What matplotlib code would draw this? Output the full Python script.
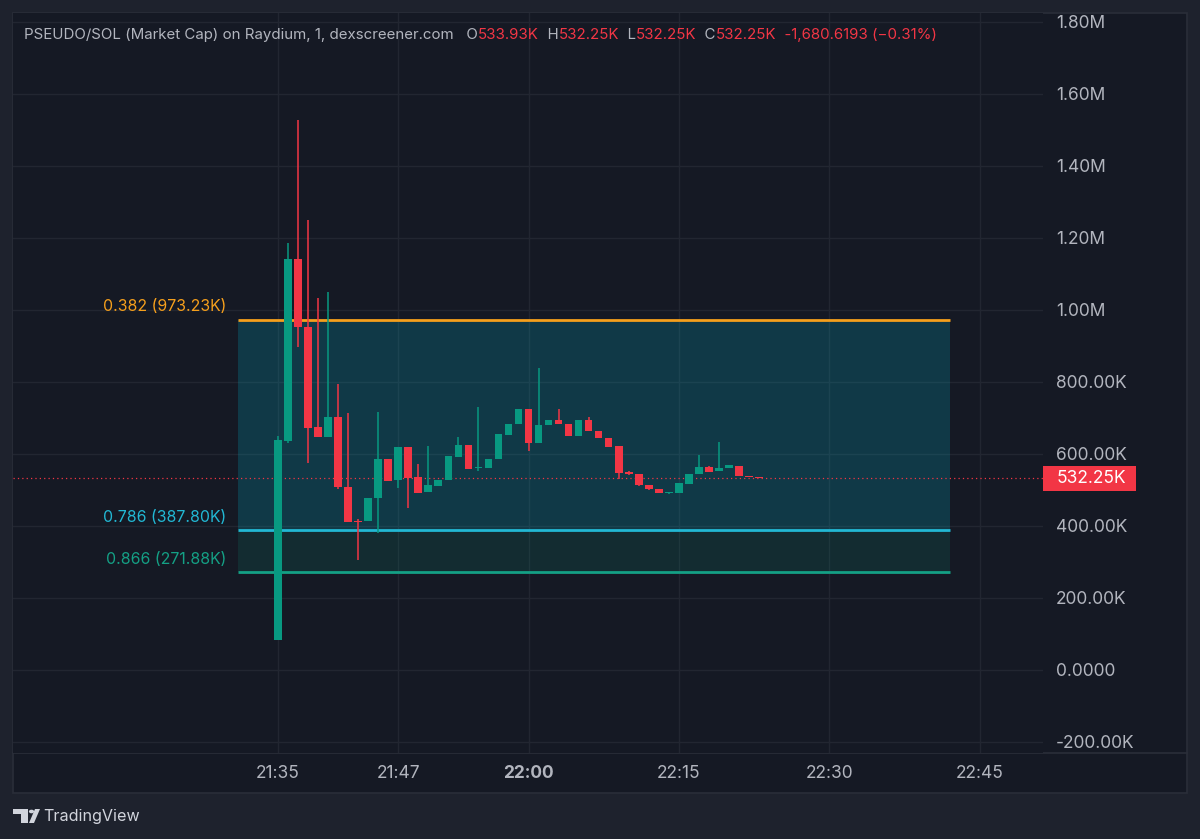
import matplotlib
matplotlib.use("Agg")
import matplotlib.pyplot as plt
import matplotlib.transforms as mtransforms
from matplotlib.patches import Rectangle, Polygon, Circle
from matplotlib.lines import Line2D
import numpy as np

plt.rcParams['font.family'] = ['Inter', 'DejaVu Sans']

# ---- data (market cap, in K) ----
start_time = "21:35"
opens  = [82, 636, 1141, 953, 675, 648, 704, 509, 414, 413, 477, 586, 528, 619, 535, 494, 511, 528, 593, 624,
          561, 560, 586, 653, 682, 725, 631, 680, 694, 683, 650, 694, 665, 644, 621, 549, 544, 514, 502, 491,
          492, 518, 544, 564, 552, 561, 568, 538, 533.93]
highs  = [650, 1187, 1529, 1250, 1032, 1050, 794, 714, 420, 477, 718, 586, 619, 619, 572, 622, 528, 594, 648, 624,
          731, 587, 655, 682, 725, 725, 839, 694, 724, 683, 694, 702, 665, 644, 621, 552, 544, 514, 502, 494,
          520, 545, 597, 566, 634, 569, 568, 538, 533.93]
lows   = [82, 630, 898, 576, 648, 648, 504, 410, 306, 413, 381, 526, 505, 449, 491, 494, 511, 528, 593, 558,
          553, 560, 586, 653, 682, 609, 631, 680, 682, 650, 650, 665, 644, 620, 530, 543, 510, 499, 491, 490,
          492, 518, 544, 551, 552, 561, 539, 535, 532.25]
closes = [638, 1141, 953, 673, 648, 704, 507, 412, 411, 477, 586, 526, 619, 534, 493, 513, 528, 594, 624, 558,
          564, 587, 655, 682, 725, 631, 680, 694, 682, 650, 694, 665, 644, 620, 546, 544, 514, 502, 491, 494,
          520, 545, 564, 551, 562, 569, 539, 535.5, 532.25]

fib_levels = [0.382, 0.786, 0.866]
fib_values = [973.23, 387.80, 271.88]
fib_start, fib_end = "21:31", "22:42"
last_price = 532.25

time_ticks = ["21:35", "21:47", "22:00", "22:15", "22:30", "22:45"]
y_ticks = [-200, 0, 200, 400, 600, 800, 1000, 1200, 1400, 1600, 1800]

title_parts = [("PSEUDO/SOL (Market Cap) on Raydium, 1, dexscreener.com   O", "#b2b5be"),
               ("533.93K", "#f23645"), ("  H", "#b2b5be"), ("532.25K", "#f23645"),
               ("  L", "#b2b5be"), ("532.25K", "#f23645"), ("  C", "#b2b5be"),
               ("532.25K", "#f23645"), ("  -1,680.6193 (\u22120.31%)", "#f23645")]

# ---- colours ----
outer_bg = "#1e222d"
panel_bg = "#151924"
border = "#2a2e39"
grid_c = "#222631"
text_c = "#b2b5be"
up_c = "#089981"
down_c = "#f23645"
fib_colors = ["#f59f1c", "#22b8d4", "#14a085"]

TICK_FS = 12.5
TITLE_FS = 10.85
FIB_FS = 11.4


def to_min(t):
    hh, mm = t.split(":")
    return (int(hh) * 60 + int(mm)) - (21 * 60 + 35)


W, H = 1200, 839
fig = plt.figure(figsize=(W / 100, H / 100), dpi=100, facecolor=outer_bg)

# panel background + border
fig.patches.append(Rectangle((13 / W, 1 - 793 / H), (1187 - 13) / W, (793 - 13) / H,
                             transform=fig.transFigure, facecolor=panel_bg, edgecolor=border, lw=1.2, zorder=-5))
fig.lines.append(Line2D([13 / W, 1187 / W], [1 - 753 / H, 1 - 753 / H], transform=fig.transFigure,
                        color=border, lw=1.2, zorder=-4))

ax = fig.add_axes([13 / W, 1 - 753 / H, 1030 / W, 740 / H])
ax.set_facecolor(panel_bg)
for s in ax.spines.values():
    s.set_visible(False)

x = np.arange(len(opens)) + to_min(start_time)
o = np.array(opens) * 1000
h = np.array(highs) * 1000
l = np.array(lows) * 1000
c = np.array(closes) * 1000
cols = [up_c if cc >= oo else down_c for oo, cc in zip(o, c)]

# fib box
x0, x1 = to_min(fib_start), to_min(fib_end)
vals = np.array(fib_values) * 1000
ax.fill_between([x0, x1], vals[1], vals[0], color="#00bcd4", alpha=0.2, lw=0, zorder=1)
ax.fill_between([x0, x1], vals[2], vals[1], color=up_c, alpha=0.15, lw=0, zorder=1)
for lev, v, col in zip(fib_levels, vals, fib_colors):
    ax.plot([x0, x1], [v, v], color=col, lw=2, zorder=2, solid_capstyle="butt")
    ax.annotate(f"{lev} ({v / 1000:.2f}K)", xy=(x0, v), xytext=(-8, 4), textcoords="offset points",
                ha="right", va="bottom", color=col, fontsize=FIB_FS)

# candles
ax.vlines(x, l, h, colors=cols, lw=1.1, zorder=3)
body_lo = np.minimum(o, c)
body_h = np.maximum(np.abs(c - o), 3000)
ax.bar(x, body_h, bottom=body_lo, width=0.75, color=cols, lw=0, zorder=4)

# last price line + tag
ax.axhline(last_price * 1000, color=down_c, lw=0.9, ls=(0, (1, 2.5)), zorder=2)
blend = mtransforms.blended_transform_factory(ax.transAxes, ax.transData)
ax.add_patch(Rectangle((1.0, last_price * 1000 - 34500), 93 / 1030, 69000, transform=blend,
                       facecolor=down_c, edgecolor="none", clip_on=False, zorder=5))
ax.text(1 + 14 / 1030, last_price * 1000, f"{last_price:.2f}K", transform=blend, color="white",
        fontsize=TICK_FS, ha="left", va="center", zorder=6)

# axes
ax.set_xlim(-26.4, 76.3)
ax.set_ylim(-230600, 1825000)
ax.set_xticks([to_min(t) for t in time_ticks])
ax.set_xticklabels(time_ticks)
for lab in ax.get_xticklabels():
    if lab.get_text() == "22:00":
        lab.set_fontweight("bold")
ax.set_yticks(np.array(y_ticks) * 1000)


def fmt(v):
    if v == 0:
        return "0.0000"
    if abs(v) >= 1000:
        return f"{v / 1000:.2f}M"
    return f"{v:.2f}K"


ax.set_yticklabels([fmt(v) for v in y_ticks])
ax.yaxis.tick_right()
ax.tick_params(axis="both", length=0, colors=text_c, labelsize=TICK_FS)
ax.tick_params(axis="y", pad=9.5)
ax.tick_params(axis="x", pad=9)
ax.grid(True, color=grid_c, lw=1)
ax.set_axisbelow(True)

# title (multi-coloured, each piece placed after the previous one)
t = ax.annotate(title_parts[0][0], xy=(24 / W, 1 - 39 / H), xycoords="figure fraction",
                color=title_parts[0][1], fontsize=TITLE_FS, ha="left", va="baseline")
for txt, col in title_parts[1:]:
    t = ax.annotate(txt, xy=(1, 0), xycoords=t, color=col, fontsize=TITLE_FS, ha="left", va="bottom")


# TradingView logo
def px(xp, yp):
    return (xp / W, 1 - yp / H)


fig.patches.append(Polygon([px(13, 809), px(28, 809), px(28, 823), px(21, 823), px(21, 814), px(13, 814)],
                           closed=True, transform=fig.transFigure, facecolor="#d1d4dc", edgecolor="none"))
fig.patches.append(Circle(px(31.5, 811.5), 2.6 / W, transform=fig.transFigure, facecolor="#d1d4dc",
                          edgecolor="none"))
fig.patches.append(Polygon([px(35, 809), px(40, 809), px(34, 823), px(29, 823)], closed=True,
                           transform=fig.transFigure, facecolor="#d1d4dc", edgecolor="none"))
fig.text(43 / W, 1 - 817 / H, "TradingView", color="#d1d4dc", fontsize=11.6, ha="left", va="center")

fig.savefig("out.png", dpi=100, facecolor=outer_bg)
